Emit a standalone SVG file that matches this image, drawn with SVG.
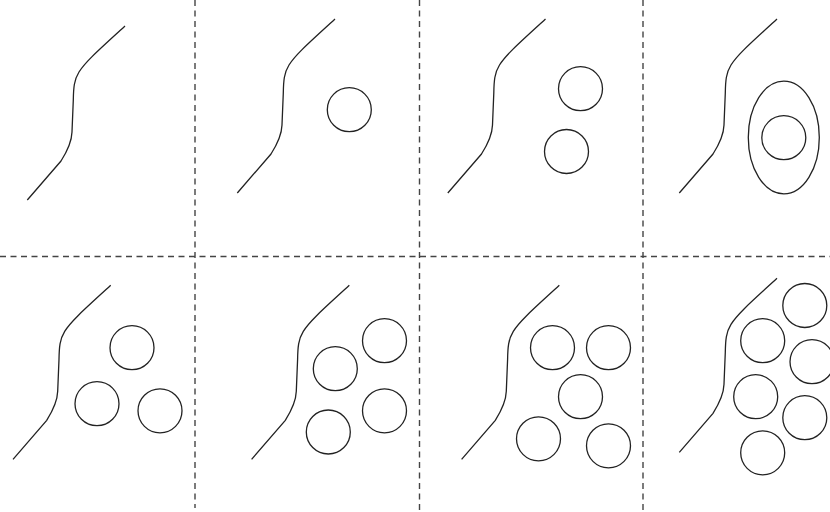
<svg xmlns="http://www.w3.org/2000/svg" xmlns:xlink="http://www.w3.org/1999/xlink" width="830" height="512" viewBox="0 0 830 512">
<style>
.s{fill:none;stroke:#222;stroke-width:1.3}
.d{fill:none;stroke:#444;stroke-width:1.4;stroke-dasharray:6,4.5}
</style>
<defs>
<path id="curve" class="s" d="M125,26 C100,49 86,61 79,72 C74,80 73.5,88 73.3,100 L72,132 C71.7,142 68,150 61,161 L27.3,200"/>
</defs>
<rect width="830" height="512" fill="#fff"/>
<g id="dividers">
<line class="d" x1="195" y1="0" x2="195" y2="508"/>
<line class="d" x1="419.5" y1="0" x2="419.5" y2="510"/>
<line class="d" x1="643" y1="0" x2="643" y2="510"/>
<line class="d" x1="0" y1="256.5" x2="830" y2="256.5"/>
</g>
<g id="panel1"><use xlink:href="#curve"/></g>
<g id="panel2"><use xlink:href="#curve" transform="translate(210,-7)"/>
<circle class="s" cx="349.3" cy="109.7" r="22"/></g>
<g id="panel3"><use xlink:href="#curve" transform="translate(420.5,-7)"/>
<circle class="s" cx="580.5" cy="88.7" r="22"/>
<circle class="s" cx="566.5" cy="151.5" r="22"/></g>
<g id="panel4"><use xlink:href="#curve" transform="translate(652,-7)"/>
<ellipse class="s" cx="783.8" cy="137.5" rx="35.5" ry="56.3"/>
<circle class="s" cx="783.8" cy="137.7" r="22"/></g>
<g id="panel5"><use xlink:href="#curve" transform="translate(-14.3,259.3)"/>
<circle class="s" cx="132" cy="347.7" r="22"/>
<circle class="s" cx="97" cy="403.7" r="22"/>
<circle class="s" cx="160" cy="410.8" r="22"/></g>
<g id="panel6"><use xlink:href="#curve" transform="translate(224.3,259.3)"/>
<circle class="s" cx="384.5" cy="340.7" r="22"/>
<circle class="s" cx="335.3" cy="368.7" r="22"/>
<circle class="s" cx="384.5" cy="410.8" r="22"/>
<circle class="s" cx="328.3" cy="432" r="22"/></g>
<g id="panel7"><use xlink:href="#curve" transform="translate(434.3,259.3)"/>
<circle class="s" cx="552.5" cy="347.7" r="22"/>
<circle class="s" cx="608.5" cy="347.7" r="22"/>
<circle class="s" cx="580.5" cy="396.7" r="22"/>
<circle class="s" cx="538.5" cy="438.8" r="22"/>
<circle class="s" cx="608.5" cy="445.8" r="22"/></g>
<g id="panel8"><use xlink:href="#curve" transform="translate(652,252.3)"/>
<circle class="s" cx="804.8" cy="305.5" r="22"/>
<circle class="s" cx="762.7" cy="340.7" r="22"/>
<circle class="s" cx="812" cy="361.7" r="22"/>
<circle class="s" cx="755.7" cy="396.7" r="22"/>
<circle class="s" cx="804.8" cy="417.7" r="22"/>
<circle class="s" cx="762.7" cy="452.8" r="22"/></g>
</svg>
